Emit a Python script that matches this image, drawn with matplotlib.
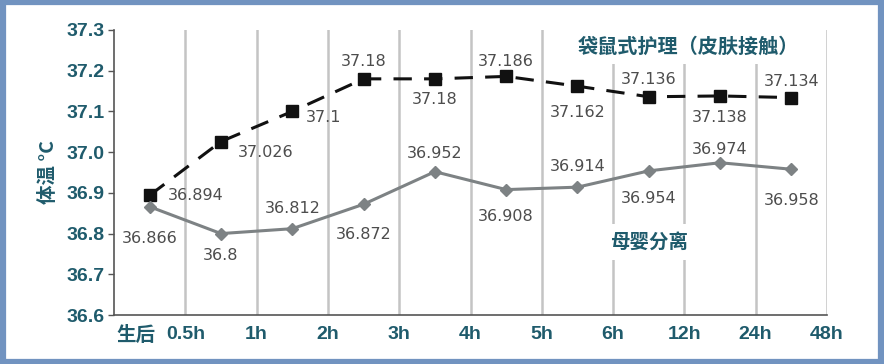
import matplotlib.pyplot as plt
from matplotlib.patches import Rectangle

# data
time_labels = ['生后', '0.5h', '1h', '2h', '3h', '4h', '5h', '6h', '12h', '24h', '48h']
kangaroo = [36.894, 37.026, 37.1, 37.18, 37.18, 37.186, 37.162, 37.136, 37.138, 37.134]
separation = [36.866, 36.8, 36.812, 36.872, 36.952, 36.908, 36.914, 36.954, 36.974, 36.958]
kangaroo_txt = ['36.894', '37.026', '37.1', '37.18', '37.18', '37.186', '37.162', '37.136', '37.138', '37.134']
separation_txt = ['36.866', '36.8', '36.812', '36.872', '36.952', '36.908', '36.914', '36.954', '36.974', '36.958']

# label offsets in pixels (dx, dy)
k_off = [(46, 0), (45, -11), (31, -6), (0, 17), (0, -21), (0, 15), (0, -26), (0, 17), (0, -22), (0, 16)]
s_off = [(0, -32), (0, -22), (0, 20), (0, -30), (0, 18), (0, -27), (0, 21), (0, -28), (0, 13), (0, -31)]

teal = '#1f5b6c'
lab_gray = '#4d4d4d'
fonts = ['Liberation Sans', 'Noto Sans CJK SC']

fig = plt.figure(figsize=(8.84, 3.64), dpi=100)
fig.patches.append(Rectangle((0.003, 0.006), 0.994, 0.988, transform=fig.transFigure,
                             fill=False, edgecolor='#7193c0', linewidth=4.5))
ax = fig.add_axes([0.129, 0.1346, 0.8065, 0.783])

x = [i + 0.5 for i in range(len(kangaroo))]

for g in range(1, 11):
    ax.axvline(g, color='#c4c4c4', lw=1.8, zorder=0)

ax.plot(x, kangaroo, color='#111111', lw=2.2, dashes=(6, 4),
        marker='s', markersize=8, zorder=3)
ax.plot(x, separation, color='#7d8284', lw=2.2,
        marker='D', markersize=6, zorder=3)

for xi, v, t, (dx, dy) in zip(x, kangaroo, kangaroo_txt, k_off):
    ax.annotate(t, (xi, v), xytext=(dx, dy), textcoords='offset pixels',
                ha='center', va='center', fontsize=11.5, color=lab_gray, family='DejaVu Sans')
for xi, v, t, (dx, dy) in zip(x, separation, separation_txt, s_off):
    ax.annotate(t, (xi, v), xytext=(dx, dy), textcoords='offset pixels',
                ha='center', va='center', fontsize=11.5, color=lab_gray, family='DejaVu Sans')

ax.text(8.05, 37.2595, '袋鼠式护理（皮肤接触）', ha='center', va='center', fontsize=14.5,
        color=teal, fontweight='bold', family=['Noto Sans CJK SC'],
        bbox=dict(facecolor='white', edgecolor='none', pad=5), zorder=4)
ax.text(7.5, 36.779, '母婴分离', ha='center', va='center', fontsize=14,
        color=teal, fontweight='bold', family=['Noto Sans CJK SC'],
        bbox=dict(facecolor='white', edgecolor='none', pad=6), zorder=4)

ax.set_xlim(0, 10)
ax.set_ylim(36.6, 37.3)
ax.set_yticks([36.6 + 0.1 * i for i in range(8)])
ax.set_yticklabels(['%.1f' % (36.6 + 0.1 * i) for i in range(8)],
                   fontsize=14, fontweight='bold', color=teal, family=fonts)
ax.set_xticks([0.3] + list(range(1, 11)))
ax.set_xticklabels(time_labels, fontsize=14, fontweight='bold', color=teal, family=fonts)
ax.tick_params(axis='x', length=0, pad=8)
ax.tick_params(axis='y', length=4, width=1, color='#555555', pad=3)

ax.spines['top'].set_visible(False)
ax.spines['right'].set_visible(False)
ax.spines['left'].set_color('#555555')
ax.spines['bottom'].set_color('#555555')
ax.spines['left'].set_linewidth(1.2)
ax.spines['bottom'].set_linewidth(1.2)

ax.set_ylabel('体温 °C', fontsize=14, fontweight='bold', color=teal,
              family=['Noto Sans CJK SC', 'DejaVu Sans'], labelpad=6)

fig.savefig('out.png', dpi=100)
